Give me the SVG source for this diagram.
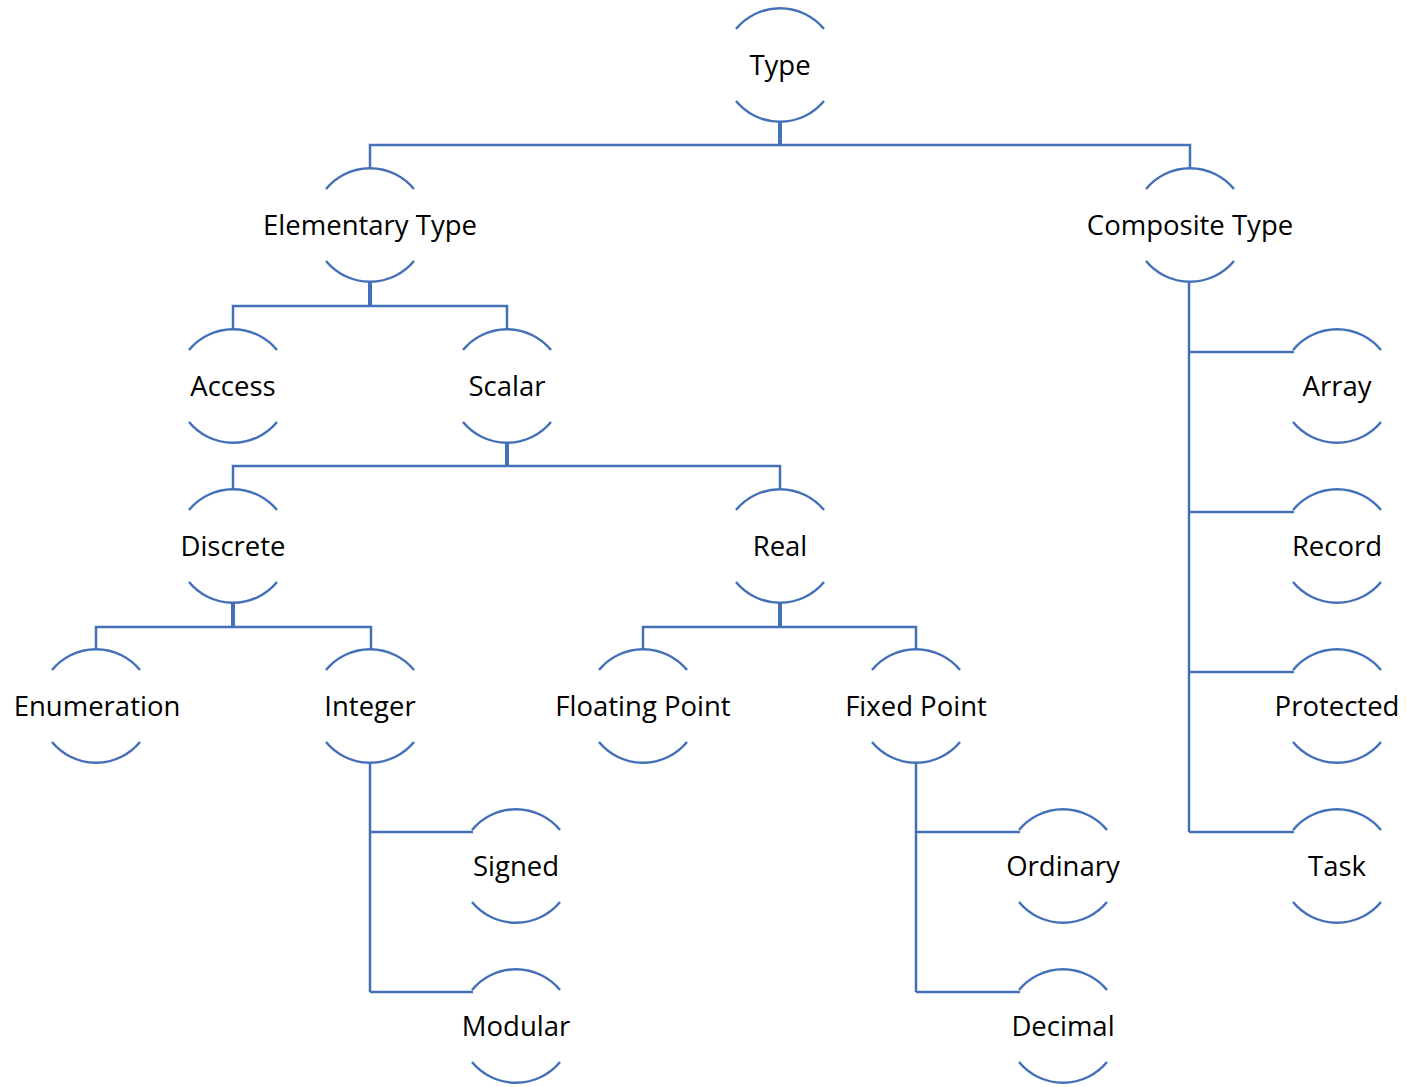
<svg xmlns="http://www.w3.org/2000/svg" width="1406" height="1087" viewBox="0 0 1406 1087">
<style>
.arc{fill:none;stroke:#4470B8;stroke-width:2.5}
.ln{fill:none;stroke:#4470B8;stroke-width:2.5}
.stem{fill:none;stroke:#4470B8;stroke-width:4}
text{font-family:"Open Sans","Noto Sans",sans-serif;font-size:27.5px;fill:#000;text-anchor:middle}
</style>
<defs>
<path id="c" class="arc" d="M-44,-36 A57,57 0 0 1 44,-36 M-44,36 A57,57 0 0 0 44,36"/>
</defs>
<rect width="1406" height="1087" fill="#fff"/>
<g id="connectors">
<path class="stem" d="M780,122 V145 M370,282 V306 M507,443 V466 M233,603 V627 M780,603 V627"/>
<path class="ln" d="M370,169 V145 H1190 V169"/>
<path class="ln" d="M233,330 V306 H507 V330"/>
<path class="ln" d="M233,490 V466 H780 V490"/>
<path class="ln" d="M96,650 V627 H371 V650"/>
<path class="ln" d="M643,650 V627 H916 V650"/>
<path class="ln" d="M1189,282 V832 M1189,352 H1294 M1189,512 H1294 M1189,672 H1294 M1189,832 H1294"/>
<path class="ln" d="M370,763 V992 M370,832 H473 M370,992 H473"/>
<path class="ln" d="M916,763 V992 M916,832 H1020 M916,992 H1020"/>
</g>
<g id="n-type"><use href="#c" x="780" y="65"/><text x="780" y="75">Type</text></g>
<g id="n-elementary"><use href="#c" x="370" y="225"/><text x="370" y="235">Elementary Type</text></g>
<g id="n-composite"><use href="#c" x="1190" y="225"/><text x="1190" y="235">Composite Type</text></g>
<g id="n-access"><use href="#c" x="233" y="386"/><text x="233" y="396">Access</text></g>
<g id="n-scalar"><use href="#c" x="507" y="386"/><text x="507" y="396">Scalar</text></g>
<g id="n-array"><use href="#c" x="1337" y="386"/><text x="1337" y="396">Array</text></g>
<g id="n-discrete"><use href="#c" x="233" y="546"/><text x="233" y="556">Discrete</text></g>
<g id="n-real"><use href="#c" x="780" y="546"/><text x="780" y="556">Real</text></g>
<g id="n-record"><use href="#c" x="1337" y="546"/><text x="1337" y="556">Record</text></g>
<g id="n-enumeration"><use href="#c" x="96" y="706"/><text x="97" y="716">Enumeration</text></g>
<g id="n-integer"><use href="#c" x="370" y="706"/><text x="370" y="716">Integer</text></g>
<g id="n-floating"><use href="#c" x="643" y="706"/><text x="643" y="716">Floating Point</text></g>
<g id="n-fixed"><use href="#c" x="916" y="706"/><text x="916" y="716">Fixed Point</text></g>
<g id="n-protected"><use href="#c" x="1337" y="706"/><text x="1337" y="716">Protected</text></g>
<g id="n-signed"><use href="#c" x="516" y="866"/><text x="516" y="876">Signed</text></g>
<g id="n-ordinary"><use href="#c" x="1063" y="866"/><text x="1063" y="876">Ordinary</text></g>
<g id="n-task"><use href="#c" x="1337" y="866"/><text x="1337" y="876">Task</text></g>
<g id="n-modular"><use href="#c" x="516" y="1026"/><text x="516" y="1036">Modular</text></g>
<g id="n-decimal"><use href="#c" x="1063" y="1026"/><text x="1063" y="1036">Decimal</text></g>
</svg>
